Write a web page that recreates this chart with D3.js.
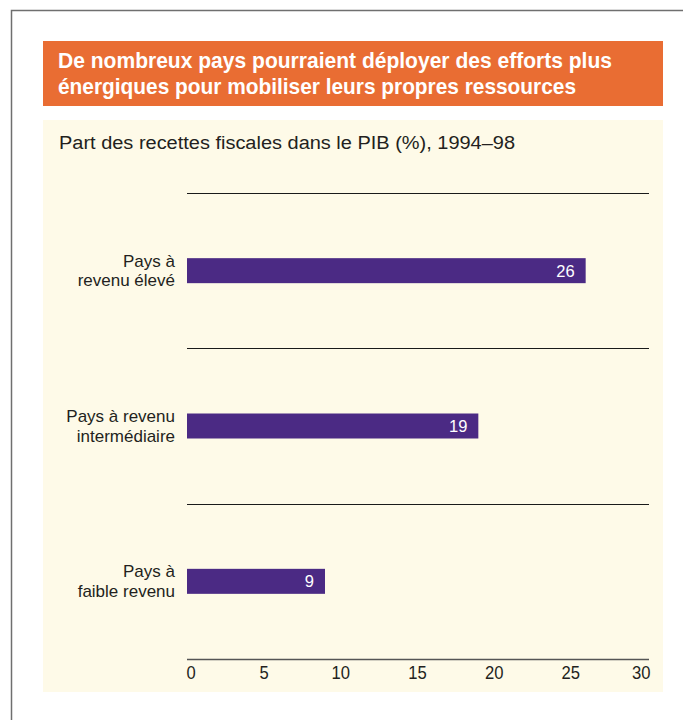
<!DOCTYPE html>
<html lang="fr">
<head>
<meta charset="utf-8">
<script src="https://cdn.jsdelivr.net/npm/d3@7"></script>
<style>
  html, body { margin: 0; padding: 0; background: #ffffff; }
  svg { display: block; }
</style>
</head>
<body>
<svg id="chart" width="683" height="720"></svg>
<script>
// Tax revenue as a share of GDP (%), 1994–98, by income group
const categories = [
  ["Pays à", "revenu élevé"],
  ["Pays à revenu", "intermédiaire"],
  ["Pays à", "faible revenu"]
];
const values = [26, 19, 9];
const xTicks = [0, 5, 10, 15, 20, 25, 30];
const titleLines = [
  "De nombreux pays pourraient déployer des efforts plus",
  "énergiques pour mobiliser leurs propres ressources"
];
const subtitle = "Part des recettes fiscales dans le PIB (%), 1994–98";

const svg = d3.select("#chart");
const sans = "'Liberation Sans', Arial, 'Helvetica Neue', sans-serif";

// Squeeze a text element horizontally to a given width (condensed look)
function condense(sel, target) {
  sel.attr("textLength", target).attr("lengthAdjust", "spacingAndGlyphs");
}
// Condense by a fixed factor relative to the natural width
function condenseBy(sel, k) {
  const w = sel.node().getComputedTextLength();
  if (w > 0) condense(sel, (w * k).toFixed(1));
}

// Page frame
svg.append("path")
  .attr("d", "M11.5,720 L11.5,10.5 L683,10.5")
  .attr("fill", "none")
  .attr("stroke", "#6f6f6f")
  .attr("stroke-width", 1.5);

// Title banner
svg.append("rect")
  .attr("x", 43).attr("y", 41).attr("width", 620).attr("height", 65)
  .attr("fill", "#e96d33");

const titleWidths = [554, 518];
titleLines.forEach((t, i) => {
  const txt = svg.append("text")
    .attr("x", 58).attr("y", 68 + i * 26)
    .attr("font-family", sans)
    .attr("font-weight", "bold")
    .attr("font-size", 22)
    .attr("fill", "#ffffff")
    .text(t);
  condense(txt, titleWidths[i]);
});

// Chart panel
svg.append("rect")
  .attr("x", 43).attr("y", 120).attr("width", 620).attr("height", 572)
  .attr("fill", "#fefae8");

const sub = svg.append("text")
  .attr("x", 59).attr("y", 149)
  .attr("font-family", sans)
  .attr("font-size", 18)
  .attr("fill", "#231f20")
  .text(subtitle);
condense(sub, 456);

// Scales
const x = d3.scaleLinear().domain([0, 30]).range([187, 647]);
const y = d3.scaleBand()
  .domain(d3.range(values.length))
  .range([193, 659]);
const barH = 25;

// Separator lines at the top of each band
svg.append("g")
  .selectAll("line")
  .data(d3.range(values.length))
  .join("line")
  .attr("x1", 187).attr("x2", 649)
  .attr("y1", d => Math.round(y(d)) + 0.5)
  .attr("y2", d => Math.round(y(d)) + 0.5)
  .attr("stroke", "#1a1a1a")
  .attr("stroke-width", 1.2);

// Bars
svg.append("g")
  .selectAll("rect")
  .data(values)
  .join("rect")
  .attr("x", x(0))
  .attr("y", (d, i) => y(i) + y.bandwidth() / 2 - barH / 2)
  .attr("width", d => x(d) - x(0))
  .attr("height", barH)
  .attr("fill", "#4b2a84");

// Value labels inside bars
svg.append("g")
  .selectAll("text")
  .data(values)
  .join("text")
  .attr("x", d => x(d) - 11)
  .attr("y", (d, i) => y(i) + y.bandwidth() / 2 + 6)
  .attr("text-anchor", "end")
  .attr("font-family", sans)
  .attr("font-size", 16.5)
  .attr("fill", "#ffffff")
  .text(d => d);

// Category labels (two lines, right-aligned against the bars)
const catG = svg.append("g");
categories.forEach((lines, i) => {
  const cy = y(i) + y.bandwidth() / 2;
  lines.forEach((ln, j) => {
    catG.append("text")
      .attr("x", 175)
      .attr("y", cy - 4 + j * 19.5)
      .attr("text-anchor", "end")
      .attr("font-family", sans)
      .attr("font-size", 17)
      .attr("fill", "#231f20")
      .text(ln);
  });
});

// X axis
const axis = d3.axisBottom(x).tickValues(xTicks).tickSize(0).tickPadding(8);
const ax = svg.append("g")
  .attr("transform", "translate(0,659)")
  .call(axis);
ax.select(".domain")
  .attr("d", "M187,0.5H649")
  .attr("stroke", "#555555")
  .attr("stroke-width", 1.5);
ax.selectAll("text")
  .attr("font-family", sans)
  .attr("font-size", 17.5)
  .attr("fill", "#231f20")
  .attr("text-anchor", (d, i) => i === 0 ? "start" : (i === xTicks.length - 1 ? "end" : "middle"))
  .attr("dx", (d, i) => i === 0 ? -1 : (i === xTicks.length - 1 ? 3 : 0))
  .each(function () { condenseBy(d3.select(this), 0.95); });
</script>
</body>
</html>
